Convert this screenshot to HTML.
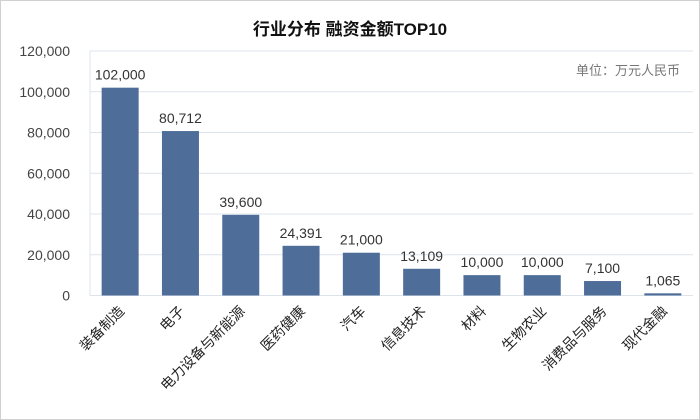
<!DOCTYPE html>
<html><head><meta charset="utf-8"><style>
body{margin:0;background:#fff}
svg{display:block;font-family:"Liberation Sans","Noto Sans CJK SC",sans-serif}
</style></head><body>
<svg width="700" height="420">
<rect x="0.5" y="0.5" width="699" height="419" fill="#fff" stroke="#d0d0d0"/>
<text x="350" y="35" text-anchor="middle" font-size="17" font-weight="bold" fill="#111">行业分布 融资金额TOP10</text>
<text x="680" y="75" text-anchor="end" font-size="13" fill="#777">单位：万元人民币</text>
<g id="grid"></g><g id="bars"></g><g id="xl"></g>
</svg>
<script>
const categories=["装备制造","电子","电力设备与新能源","医药健康","汽车","信息技术","材料","生物农业","消费品与服务","现代金融"];
const values=[102000,80712,39600,24391,21000,13109,10000,10000,7100,1065];
const ticks=[0,20000,40000,60000,80000,100000,120000];
const ns="http://www.w3.org/2000/svg";
const x0=90,band=60.3,y0=295.5,yTop=51,max=120000;
const y=v=>y0-(v/max)*(y0-yTop);
const mk=(t,a,p)=>{const e=document.createElementNS(ns,t);for(const k in a)e.setAttribute(k,a[k]);p.appendChild(e);return e;};
const g=document.getElementById('grid'),b=document.getElementById('bars'),xl=document.getElementById('xl');
ticks.forEach(t=>{
 const l=mk('line',{x1:x0,x2:x0+band*10,y1:y(t),y2:y(t),stroke:'#dde3ec','stroke-width':1},g);
 
 
 const tx=mk('text',{x:70,y:y(t)+5,'text-anchor':'end','font-size':14,fill:'#444'},g);
 tx.textContent=t.toLocaleString('en-US');
 
 
});
const ax=mk('line',{x1:x0,x2:x0,y1:yTop,y2:y0,stroke:'#dde3ec'},g);


categories.forEach((c,i)=>{
 const cx=x0+band*(i+0.5),w=37;
 const r=mk('rect',{x:cx-w/2,y:y(values[i]),width:w,height:y0-y(values[i]),fill:'#4e6e99'},b);
 
 
 const v=mk('text',{x:cx,y:y(values[i])-8,'text-anchor':'middle','font-size':14,fill:'#333'},b);
 v.textContent=values[i].toLocaleString('en-US');
 
 
 const t=mk('text',{x:cx+5,y:312,'text-anchor':'end','font-size':14,fill:'#222',transform:`rotate(-45 ${cx+5} 312)`},xl);
 t.textContent=c;
 
 
});
</script>
</body></html>
